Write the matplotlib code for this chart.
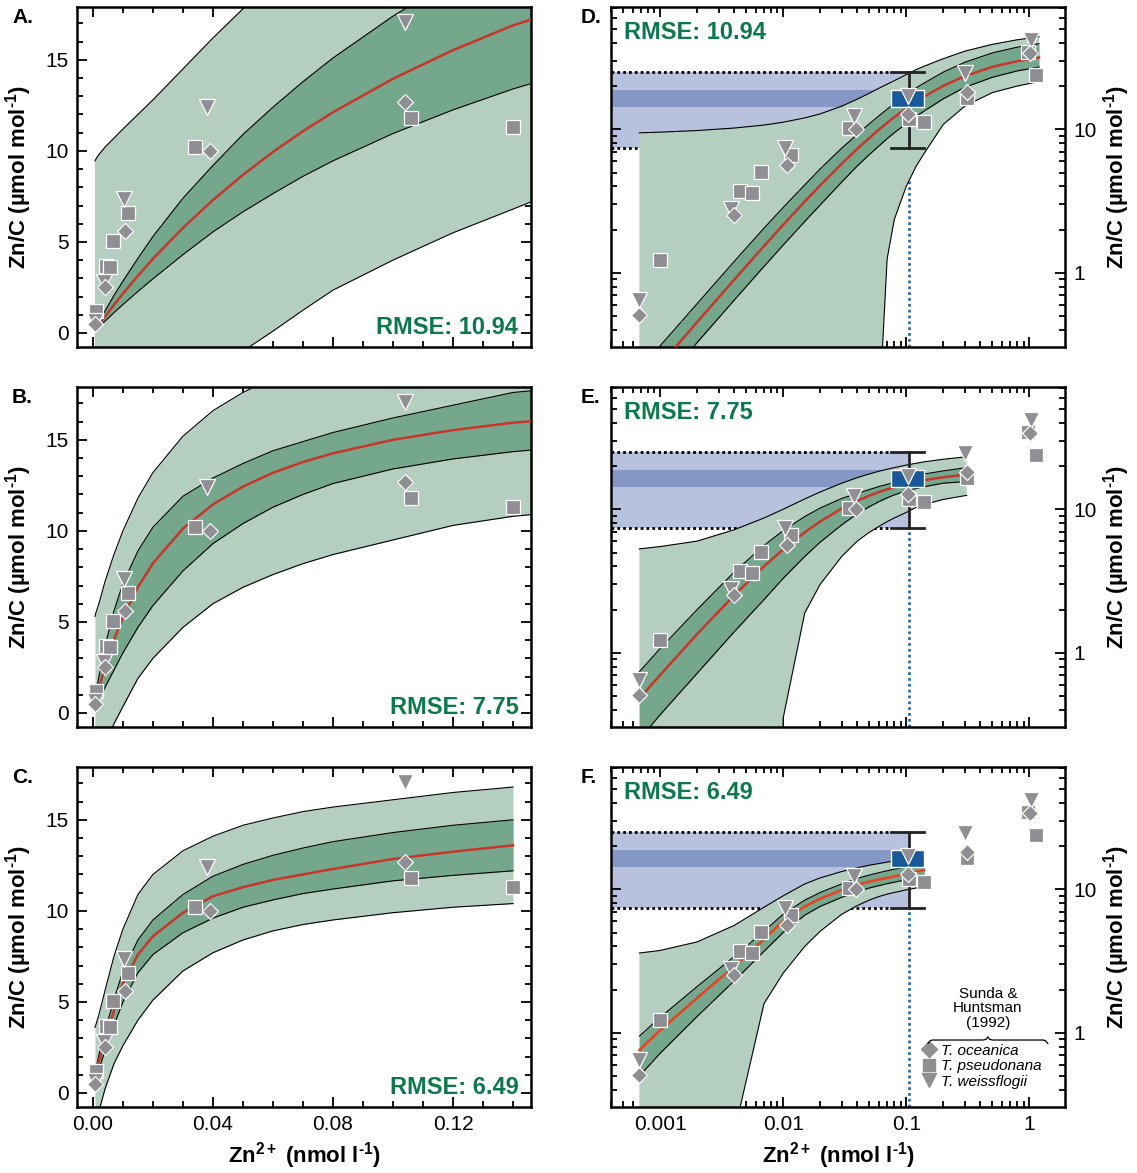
import matplotlib
matplotlib.use("Agg")
import matplotlib.pyplot as plt
from matplotlib.lines import Line2D
from matplotlib.ticker import MultipleLocator, LogLocator, NullFormatter, FixedLocator, FixedFormatter

plt.rcParams['font.family'] = ['Liberation Sans', 'DejaVu Sans']
plt.rcParams['mathtext.fontset'] = 'custom'
plt.rcParams['mathtext.rm'] = 'Liberation Sans'
plt.rcParams['mathtext.bf'] = 'Liberation Sans:bold'
plt.rcParams['mathtext.it'] = 'Liberation Sans:italic'

# ── Sunda & Huntsman (1992) culture data ─────────────────────────────────────
oce_x = [0.00067, 0.0040, 0.0107, 0.039, 0.104, 0.31, 1.02]
oce_y = [0.51, 2.55, 5.6, 10.0, 12.7, 18.3, 34.0]
pse_x = [0.001, 0.0045, 0.0056, 0.0066, 0.0116, 0.034, 0.106, 0.14, 0.31, 0.98, 1.13]
pse_y = [1.23, 3.7, 3.6, 5.05, 6.6, 10.2, 11.8, 11.3, 16.6, 34.5, 23.9]
wei_x = [0.00067, 0.0038, 0.0104, 0.038, 0.104, 0.30, 1.03]
wei_y = [0.65, 2.8, 7.35, 12.4, 17.1, 24.5, 42.0]

# ── field observation (log panels) ───────────────────────────────────────────
obs_x = 0.105
obs_x_range = [0.075, 0.14]
obs_range = [7.4, 25.2]
obs_iqr = [14.4, 18.8]

# ── model 1 (A, D) ───────────────────────────────────────────────────────────
x1 = [0.00068, 0.001, 0.002, 0.004, 0.007, 0.01, 0.015, 0.02, 0.03, 0.04, 0.05,
      0.06, 0.07, 0.08, 0.1, 0.12, 0.14, 0.2, 0.3, 0.5, 0.8, 1.2]
fit1 = [0.156, 0.228, 0.454, 0.896, 1.54, 2.16, 3.14, 4.07, 5.77, 7.30, 8.68,
        9.94, 11.08, 12.12, 13.96, 15.53, 16.89, 20.06, 23.47, 27.18, 29.82, 31.53]
in1_hi = [0.21, 0.31, 0.61, 1.2, 2.05, 2.85, 4.1, 5.3, 7.4, 9.2, 10.9,
          12.4, 13.8, 15.1, 17.4, 19.4, 21.0, 25.0, 29.3, 34.0, 37.3, 39.4]
in1_lo = [0.112, 0.164, 0.327, 0.645, 1.11, 1.56, 2.28, 2.97, 4.3, 5.55, 6.65,
          7.65, 8.6, 9.45, 10.95, 12.25, 13.4, 16.3, 19.6, 23.0, 25.5, 27.1]
out1_hi = [9.45, 9.55, 9.8, 10.2, 10.7, 11.2, 12.0, 12.8, 14.5, 16.2, 17.8,
           19.3, 20.6, 21.8, 24.0, 26.0, 27.5, 31.0, 35.0, 39.0, 42.0, 44.0]
out1_lo = [-5.5, -5.4, -5.2, -4.9, -4.5, -4.2, -3.8, -3.4, -2.7, -2.0, -1.0,
           0.1, 1.25, 2.35, 4.0, 5.5, 6.8, 10.8, 14.5, 18.0, 20.0, 21.5]

# ── model 2 (B, E) ───────────────────────────────────────────────────────────
x2 = [0.00068, 0.001, 0.002, 0.004, 0.007, 0.01, 0.015, 0.02, 0.03, 0.04, 0.05,
      0.06, 0.07, 0.08, 0.1, 0.12, 0.14, 0.2, 0.31]
fit2 = [0.482, 0.70, 1.35, 2.52, 4.01, 5.25, 6.91, 8.22, 10.13, 11.45, 12.43,
        13.19, 13.78, 14.26, 15.0, 15.53, 15.94, 16.73, 17.44]
in2_hi = [0.74, 1.07, 2.0, 3.65, 5.6, 7.1, 8.9, 10.2, 11.9, 12.9, 13.7,
          14.4, 14.9, 15.4, 16.2, 16.9, 17.6, 18.5, 19.5]
in2_lo = [0.25, 0.37, 0.72, 1.4, 2.35, 3.3, 4.7, 5.9, 7.8, 9.3, 10.4,
          11.3, 12.0, 12.6, 13.4, 13.95, 14.35, 15.2, 15.6]
out2_hi = [5.3, 5.5, 6.0, 7.2, 8.7, 10.0, 11.8, 13.2, 15.2, 16.6, 17.6,
           18.4, 19.0, 19.5, 20.3, 20.9, 21.4, 22.3, 23.2]
out2_lo = [-3.0, -2.8, -2.5, -1.8, -0.6, 0.35, 1.9, 3.0, 4.7, 6.0, 6.9,
           7.6, 8.2, 8.7, 9.5, 10.3, 10.8, 11.7, 12.5]

# ── model 3 (C, F) ───────────────────────────────────────────────────────────
x3 = [0.00068, 0.001, 0.002, 0.004, 0.007, 0.01, 0.015, 0.02, 0.03, 0.04, 0.05,
      0.06, 0.07, 0.08, 0.1, 0.12, 0.14]
fit3 = [0.76, 1.04, 1.75, 2.9, 4.5, 6.0, 7.6, 8.6, 9.9, 10.8, 11.3,
        11.7, 12.0, 12.3, 12.85, 13.25, 13.6]
in3_hi = [0.95, 1.28, 2.1, 3.4, 5.1, 6.7, 8.4, 9.5, 10.9, 11.9, 12.55,
          13.05, 13.45, 13.8, 14.3, 14.7, 15.0]
in3_lo = [0.5, 0.72, 1.3, 2.3, 3.7, 5.0, 6.6, 7.6, 8.8, 9.6, 10.2,
          10.6, 10.95, 11.2, 11.65, 11.95, 12.2]
out3_hi = [3.6, 3.75, 4.3, 5.6, 7.5, 9.0, 10.9, 12.0, 13.3, 14.1, 14.7,
           15.1, 15.45, 15.7, 16.1, 16.5, 16.8]
out3_lo = [-2.5, -2.0, -1.0, 0.2, 1.6, 2.6, 4.0, 5.1, 6.7, 7.7, 8.4,
           8.9, 9.25, 9.5, 9.9, 10.2, 10.4]

RED = "#c8362b"
RED_F = "#ee3f1f"
models = [
    ("A.", "D.", "RMSE: 10.94", x1, fit1, in1_lo, in1_hi, out1_lo, out1_hi, RED),
    ("B.", "E.", "RMSE: 7.75", x2, fit2, in2_lo, in2_hi, out2_lo, out2_hi, RED),
    ("C.", "F.", "RMSE: 6.49", x3, fit3, in3_lo, in3_hi, out3_lo, out3_hi, RED_F),
]

LIGHT_GREEN = "#b4cfc0"
DARK_GREEN = "#75a78c"
MARK = "#8e8e93"
RMSE_COL = "#0a7a4c"
BAND_LIGHT = "#b8c1de"
BAND_DARK = "#8597c4"
BOX = "#17599b"

W, H = 1137, 1173
YLAB = "Zn/C (µmol mol$^{\\mathbf{‐1}}$)"
XLAB = "Zn$^{\\mathbf{2+}}$ (nmol l$^{\\mathbf{‐1}}$)"


def draw_model(ax, x, fit, in_lo, in_hi, out_lo, out_hi, red):
    ax.fill_between(x, out_lo, out_hi, color=LIGHT_GREEN, lw=0, zorder=2)
    ax.fill_between(x, in_lo, in_hi, color=DARK_GREEN, lw=0, zorder=2.1)
    for y in (out_lo, out_hi, in_lo, in_hi):
        ax.plot(x, y, color="black", lw=0.8, zorder=3)
    ax.plot(x, fit, color=red, lw=1.8, zorder=3.5)


def draw_data(ax):
    kw = dict(ls="none", mfc=MARK, mec="white", mew=0.9, zorder=6)
    ax.plot(pse_x, pse_y, marker="s", ms=10, **kw)
    ax.plot(wei_x, wei_y, marker="v", ms=12, **kw)
    ax.plot(oce_x, oce_y, marker="D", ms=8.5, **kw)


def style_axes(ax):
    for s in ax.spines.values():
        s.set_linewidth(1.8)
    ax.tick_params(which="both", direction="in", top=True, right=True,
                   width=1.3, labelsize=15, pad=6)
    ax.tick_params(which="major", length=7)
    ax.tick_params(which="minor", length=4)


def px_axes(fig, left, top):
    return fig.add_axes([left / W, 1 - (top + 340) / H, 454 / W, 340 / H])


fig = plt.figure(figsize=(W / 100, H / 100), dpi=100)
tops = [7, 387, 767]

for i, (lab_l, lab_r, rmse, x, fit, in_lo, in_hi, out_lo, out_hi, red) in enumerate(models):
    # ── linear panel ──
    ax = px_axes(fig, 77, tops[i])
    draw_model(ax, x, fit, in_lo, in_hi, out_lo, out_hi, RED)
    draw_data(ax)
    ax.set_xlim(-0.0053, 0.146)
    ax.set_ylim(-0.77, 17.9)
    ax.xaxis.set_major_locator(FixedLocator([0, 0.04, 0.08, 0.12]))
    ax.xaxis.set_major_formatter(FixedFormatter(["0.00", "0.04", "0.08", "0.12"]))
    ax.xaxis.set_minor_locator(MultipleLocator(0.01))
    ax.yaxis.set_major_locator(MultipleLocator(5))
    ax.yaxis.set_minor_locator(MultipleLocator(1))
    style_axes(ax)
    ax.set_ylabel(YLAB, fontsize=16, fontweight="bold", labelpad=8)
    if i < 2:
        ax.tick_params(labelbottom=False)
    else:
        ax.set_xlabel(XLAB, fontsize=16, fontweight="bold", labelpad=4)
    ax.text(0.972, 0.058, rmse, transform=ax.transAxes, ha="right", va="center",
            fontsize=17, fontweight="bold", color=RMSE_COL, zorder=7)
    ax.text(-0.143, 0.968, lab_l, transform=ax.transAxes, ha="left", va="center",
            fontsize=15, fontweight="bold")

    # ── log panel ──
    ax = px_axes(fig, 611, tops[i])
    ax.set_xscale("log")
    ax.set_yscale("log")
    ax.set_xlim(0.0004, 1.95)
    ax.set_ylim(0.305, 71)
    xmin = 0.0004
    ax.fill_between([xmin, obs_x], obs_range[0], obs_range[1], color=BAND_LIGHT, lw=0, zorder=1)
    ax.fill_between([xmin, obs_x], obs_iqr[0], obs_iqr[1], color=BAND_DARK, lw=0, zorder=1.1)
    for yv in obs_range:
        ax.plot([xmin, obs_x_range[0]], [yv, yv], color="black", lw=2,
                ls=(0, (1, 1.1)), zorder=1.5)
    ax.plot([obs_x, obs_x], [0.305, obs_range[0]], color="#2a6fb5", lw=2,
            ls=(0, (1, 1.1)), zorder=1.5)
    draw_model(ax, x, fit, in_lo, in_hi, out_lo, out_hi, red)
    ax.plot([obs_x, obs_x], obs_range, color="#222222", lw=2, zorder=4)
    for yv in obs_range:
        ax.plot(obs_x_range, [yv, yv], color="#222222", lw=2, zorder=4)
    ax.fill_between(obs_x_range, obs_iqr[0], obs_iqr[1], color=BOX,
                    edgecolor="white", lw=1, zorder=5)
    draw_data(ax)
    ax.xaxis.set_major_locator(FixedLocator([0.001, 0.01, 0.1, 1]))
    ax.xaxis.set_minor_locator(LogLocator(base=10, subs=range(2, 10), numticks=10))
    ax.yaxis.set_major_locator(FixedLocator([1, 10]))
    ax.yaxis.set_major_formatter(FixedFormatter(["1", "10"]))
    ax.yaxis.set_minor_locator(LogLocator(base=10, subs=range(2, 10), numticks=10))
    ax.yaxis.set_minor_formatter(NullFormatter())
    ax.xaxis.set_minor_formatter(NullFormatter())
    style_axes(ax)
    ax.tick_params(labelleft=False, labelright=True)
    ax.yaxis.set_label_position("right")
    ax.set_ylabel(YLAB, fontsize=16, fontweight="bold", labelpad=3)
    if i < 2:
        ax.tick_params(labelbottom=False)
    else:
        ax.xaxis.set_major_formatter(FixedFormatter(["0.001", "0.01", "0.1", "1"]))
        ax.set_xlabel(XLAB, fontsize=16, fontweight="bold", labelpad=4)
    ax.text(0.029, 0.926, rmse, transform=ax.transAxes, ha="left", va="center",
            fontsize=17, fontweight="bold", color=RMSE_COL, zorder=7)
    ax.text(-0.068, 0.968, lab_r, transform=ax.transAxes, ha="left", va="center",
            fontsize=15, fontweight="bold")

    if i == 2:
        ax.text(0.83, 0.29, "Sunda &\nHuntsman\n(1992)", transform=ax.transAxes,
                ha="center", va="center", fontsize=11, linespacing=1.05, zorder=7)
        bx = [0.698, 0.703, 0.708, 0.820, 0.826, 0.830, 0.834, 0.840, 0.952, 0.957, 0.962]
        by = [0.187, 0.195, 0.197, 0.197, 0.199, 0.206, 0.199, 0.197, 0.197, 0.195, 0.187]
        ax.plot(bx, by, color="black", lw=0.9, transform=ax.transAxes, zorder=7)
        handles = [Line2D([], [], ls="none", marker="D", ms=8, mfc=MARK, mec=MARK),
                   Line2D([], [], ls="none", marker="s", ms=9, mfc=MARK, mec=MARK),
                   Line2D([], [], ls="none", marker="v", ms=10, mfc=MARK, mec=MARK)]
        ax.legend(handles, ["T. oceanica", "T. pseudonana", "T. weissflogii"],
                  loc="upper left", bbox_to_anchor=(0.68, 0.195), frameon=False,
                  handlelength=0.8, handletextpad=0.4, labelspacing=0.1,
                  borderaxespad=0, borderpad=0.2,
                  prop={"style": "italic", "size": 11})

fig.savefig("out.png", dpi=100)
